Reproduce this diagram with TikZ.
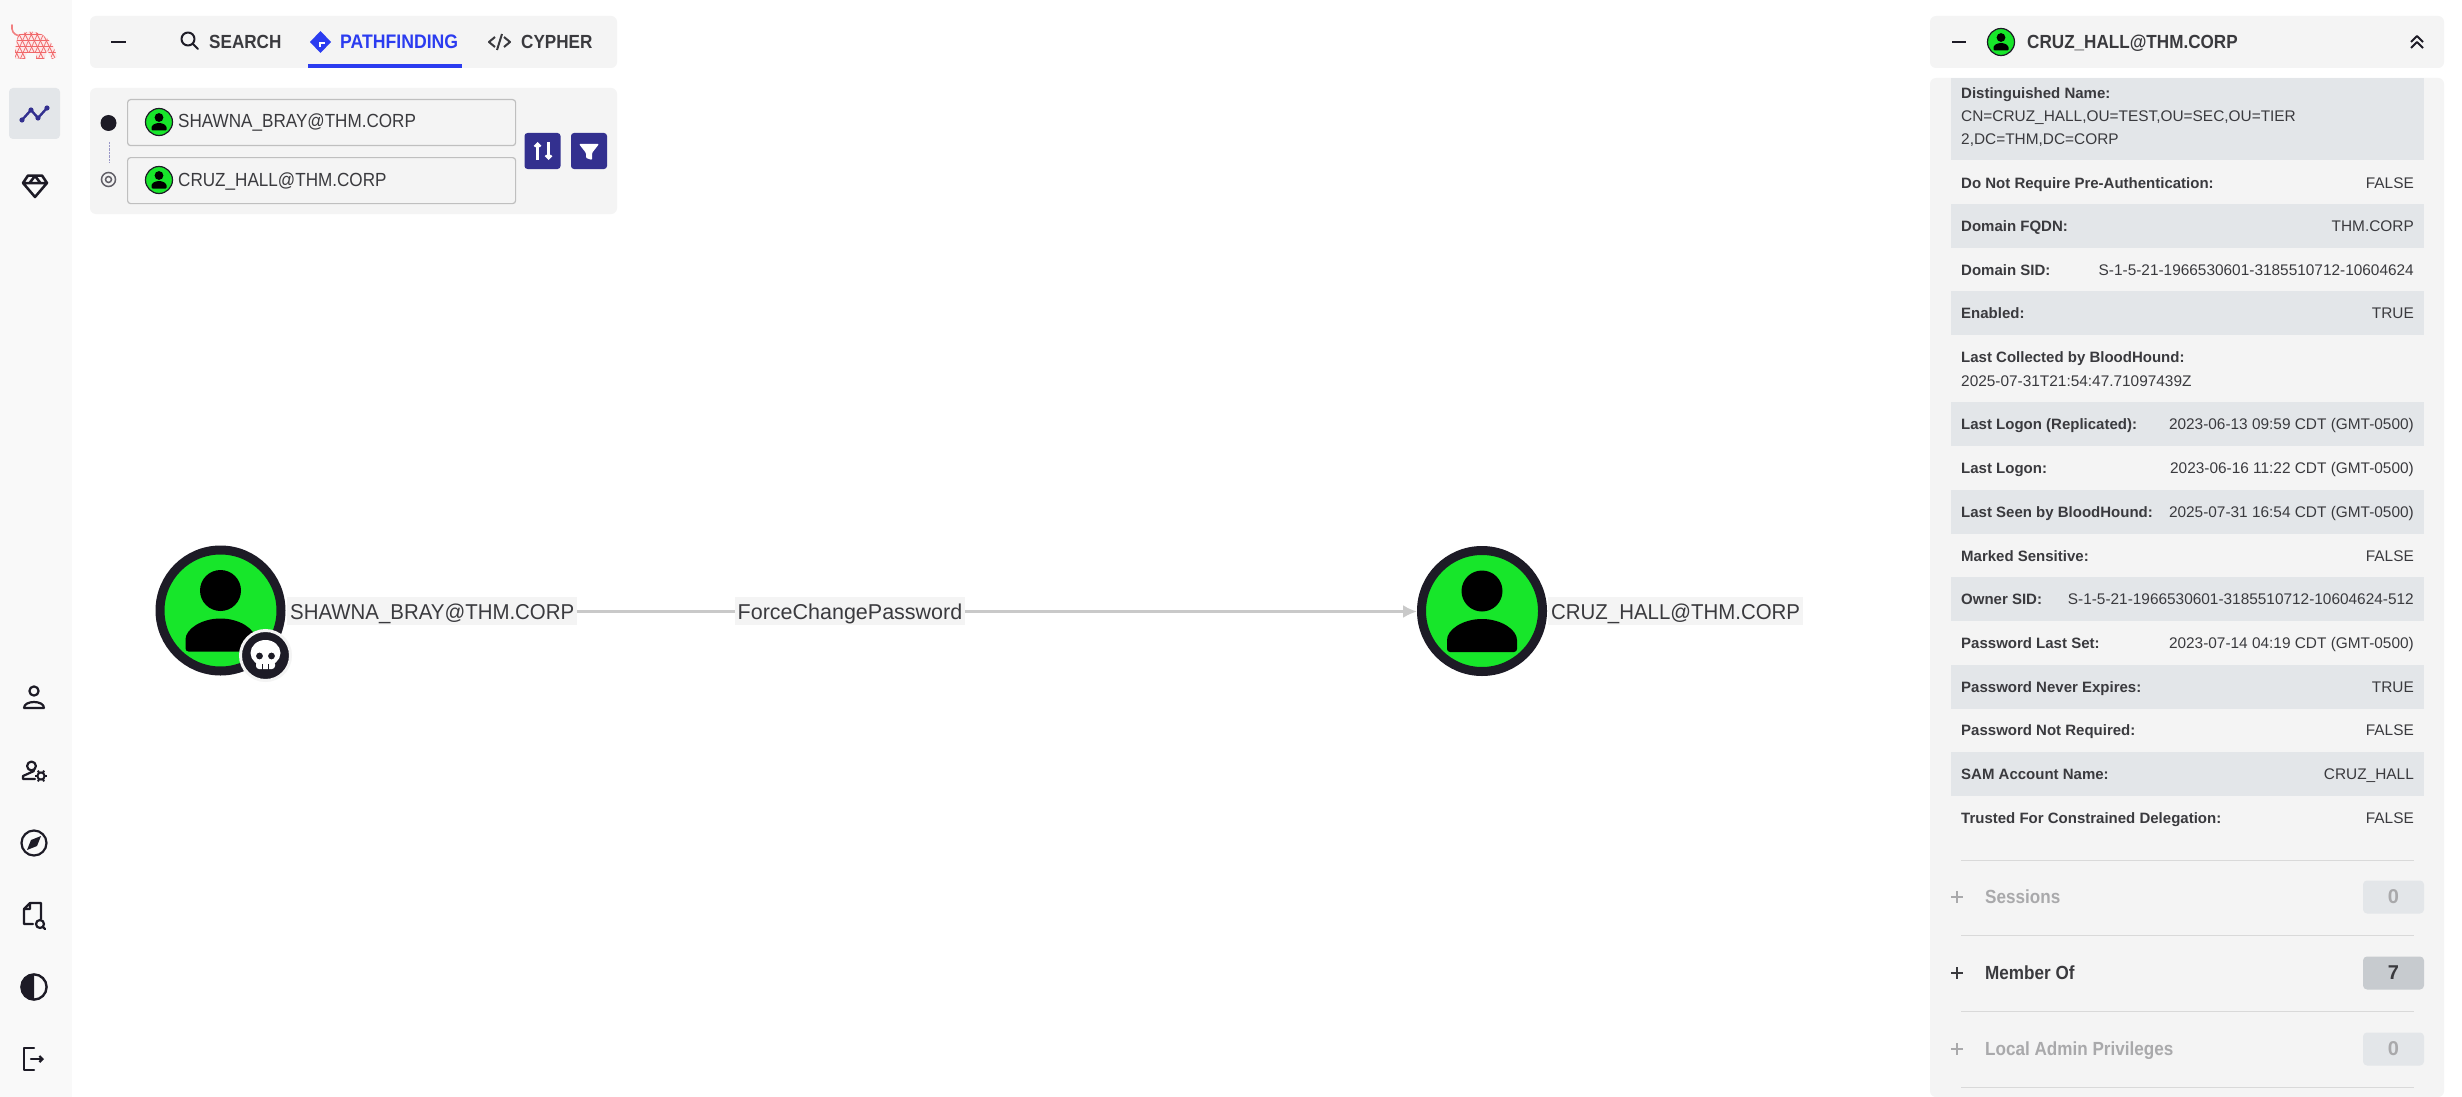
\documentclass[tikz,border=0pt]{standalone}
\usepackage{fontspec}
\setmainfont{Liberation Sans}
\newfontfamily\uifont[FakeStretch=0.9]{Liberation Sans}
\newfontfamily\labelfont[FakeStretch=0.95]{Liberation Sans}
\usetikzlibrary{arrows.meta,positioning,calc}
\definecolor{ink}{HTML}{1D1B26}
\definecolor{rail}{HTML}{F9F9F9}
\definecolor{panel}{HTML}{F4F4F4}
\definecolor{stripe}{HTML}{E3E6E9}
\definecolor{lime}{HTML}{17E62A}
\definecolor{royal}{HTML}{2B3CF0}
\definecolor{indigo}{HTML}{33308F}
\definecolor{muted}{HTML}{3A3A3E}
\definecolor{faded}{HTML}{A9A9AB}
\definecolor{edgegray}{HTML}{C9C9C9}
\definecolor{hound}{HTML}{F0686A}
\definecolor{badgegray}{HTML}{C7CBCF}
\tikzset{>=Latex,
  card/.style={fill=panel,rounded corners=6pt,inner sep=0pt},
  inputbox/.style={draw=black!25,line width=1.2pt,fill=panel,rounded corners=3pt,minimum width=388pt,minimum height=46pt,inner sep=0pt},
  tab/.style={font=\uifont\fontsize{19}{20}\selectfont\bfseries,text=muted,anchor=west,inner sep=0pt,text height=13.6pt,text depth=0pt},
  nodelabel/.style={font=\labelfont\fontsize{21.5}{24}\selectfont,text=muted,fill=panel,inner xsep=3pt,inner ysep=5.5pt,anchor=west,text height=17pt,text depth=0pt},
  fieldtext/.style={font=\uifont\fontsize{19}{20}\selectfont,text=muted,anchor=west,inner sep=0pt,text height=14pt,text depth=0pt},
  rowkey/.style={font=\fontsize{15}{18}\selectfont\bfseries,text=muted,anchor=west,inner sep=0pt,text height=11pt,text depth=0pt},
  rowval/.style={font=\fontsize{15.4}{18}\selectfont,text=muted,anchor=east,inner sep=0pt,text height=11pt,text depth=0pt},
  rowtext/.style={rowval,anchor=west},
  badge/.style={rounded corners=4pt,minimum width=61pt,minimum height=33pt,inner sep=0pt,font=\fontsize{20}{20}\selectfont\bfseries},
  squarebtn/.style={fill=indigo,rounded corners=3pt,minimum width=36pt,minimum height=36pt,inner sep=0pt},
  icon/.style={draw=ink,line width=2.2pt,line cap=round,line join=round},
  pics/avatar/.style={code={
    \fill[lime,draw=ink,line width=9pt] (0,0) circle (60.5pt);
    \fill[black] (0,-20) circle (20.5pt);
    \fill[black,rounded corners=3pt] (-35,41) -- (-35,32) arc[start angle=180,end angle=0,x radius=35pt,y radius=24pt] -- (35,41) -- cycle;
  }},
  pics/miniavatar/.style={code={
    \fill[lime,draw=ink,line width=1.2pt] (0,0) circle (13.5pt);
    \fill[black] (0,-4.5) circle (4.4pt);
    \fill[black,rounded corners=1pt] (-7.5,8.5) -- (-7.5,6.5) arc[start angle=180,end angle=0,x radius=7.5pt,y radius=5.5pt] -- (7.5,8.5) -- cycle;
  }}}
\begin{document}
\begin{tikzpicture}[x=1pt,y=-1pt]
\useasboundingbox[fill=white] (0,0) rectangle (2462,1097);
% left rail
\fill[rail] (0,0) rectangle (72,1097);
\fill[stripe,rounded corners=4pt] (9,88) rectangle (60,139);
% hound logo
\draw[hound!85,line width=1.6pt,line cap=round] (12,25) .. controls (11.5,31) and (13,34) .. (19,36);
\begin{scope}
\clip (18,35) .. controls (24,32) and (30,31) .. (35,32) .. controls (46,34) and (54,44) .. (57,57) -- (52,59) -- (47,50) -- (44,59) -- (36,59) -- (36,53) -- (27,53) -- (25,59) -- (15,58) -- (15,50) -- cycle;
\fill[hound!15] (10,25) rectangle (60,62);
\foreach \a in {0,6,...,66}{
  \draw[hound,line width=.7pt] (\a,24) -- (\a-18,64) (\a-10,24) -- (\a+10,64);
}
\foreach \b in {34,40,...,58}{\draw[hound,line width=.5pt] (10,\b) -- (60,\b);}
\end{scope}
% rail icons
\draw[indigo,line width=2.4pt,line join=round] (22,120) -- (31,110) -- (38,118) -- (47,108);
\foreach \a/\b in {22/120,31/110,38/118,47/108}{\fill[indigo] (\a,\b) circle (2.6pt);}
\draw[icon,line width=2.5pt] (23,183) -- (28,175.5) -- (42,175.5) -- (47,183) -- (35,197) -- cycle (23,183) -- (47,183) (29.5,183) -- (35,176) -- (40.5,183);
\draw[icon] (34,691) circle (4.6pt) (24,708) -- (44,708) (24,708) .. controls (24,700) and (44,700) .. (44,708);
\draw[icon] (31.5,766) circle (4.4pt) (35,779) -- (23,779) -- (23,776) -- (34,771);
\draw[ink,line width=2pt] (41,776) circle (3.6pt);
\foreach \t in {0,60,...,300}{\draw[ink,line width=2pt] ($(41,776)+(\t:3.6)$) -- ($(41,776)+(\t:6.2)$);}
\draw[icon] (34,843) circle (12.5pt);
\fill[ink] (41,836) -- (37,846) -- (27,850) -- (31,840) -- cycle;
\draw[icon] (41,919) -- (41,903) -- (30,903) -- (24,909) -- (24,924) -- (33,924) (30,903) -- (30,909) -- (24,909);
\draw[icon] (40,924) circle (4pt) (43,927) -- (45,929);
\draw[ink,line width=2.4pt] (34,987) circle (12.6pt);
\fill[ink] (34,974.4) arc[start angle=90,end angle=270,radius=12.6pt] -- cycle;
\draw[icon] (34,1048) -- (24,1048) -- (24,1070) -- (34,1070);
\draw[icon,-{Straight Barb[length=3pt]}] (31,1059) -- (44,1059);
% tab bar
\fill[card] (90,16) rectangle (617,68);
\fill[card] (90,88) rectangle (617,214);
\draw[ink,line width=2.2pt] (111,42) -- (126,42);
\draw[icon,line width=2pt] (188,39) circle (6.5pt) (193,44) -- (198,49);
\node[tab] (searchtab) at (209,42) {SEARCH};
\fill[royal] (320.5,31) -- (331,42) -- (320.5,53) -- (310,42) -- cycle;
\fill[white] (319,44) rectangle (321,47);
\fill[white] (319,42) rectangle (325,44);
\node[tab,font=\uifont\fontsize{19.6}{20}\selectfont\bfseries,text=royal] (pathtab) at (340,42) {PATHFINDING};
\fill[royal] (308,64) rectangle (462,68);
\draw[muted,line width=2pt,line join=round] (495,37) -- (489,42) -- (495,47) (504,37) -- (510,42) -- (504,47) (502,34) -- (497,50);
\node[tab] (cyphertab) at (521,42) {CYPHER};
% start and end fields
\node[inputbox,anchor=north west] (startbox) at (127,99) {};
\node[inputbox,anchor=north west] (endbox) at (127,157) {};
\fill[ink] (108.5,123) circle (8pt);
\draw[ink!70,line width=1.5pt] (108.5,179.5) circle (7pt) (108.5,179.5) circle (3pt);
\draw[indigo!50,densely dotted] (109,142) -- (109,162);
\pic at (159,122) {miniavatar};
\pic at (159,180) {miniavatar};
\node[fieldtext] (startname) at (178,121) {SHAWNA\_BRAY@THM.CORP};
\node[fieldtext] (endname) at (178,179) {CRUZ\_HALL@THM.CORP};
\node[squarebtn] (swapbtn) at (542.5,151) {};
\node[squarebtn] (filterbtn) at (589,151) {};
\draw[white,line width=2.2pt,-{Straight Barb[length=3pt]}] (537.5,160) -- (537.5,142);
\draw[white,line width=2.2pt,-{Straight Barb[length=3pt]}] (548.5,142) -- (548.5,160);
\fill[white,rounded corners=1pt] (579,144) -- (599,144) -- (592,153) -- (592,160) -- (586,158) -- (586,153) -- cycle;
% graph
\pic at (220.5,610.5) {avatar};
\pic at (1482,611) {avatar};
\coordinate (srcport) at (576,611.5);
\coordinate (dstport) at (1417,611.5);
\draw[edgegray,line width=2.6pt,-{Latex[length=14pt,width=13pt]}] (srcport) -- (dstport);
\node[nodelabel] (srclabel) at (287,611) {SHAWNA\_BRAY@THM.CORP};
\node[nodelabel] (dstlabel) at (1548,611) {CRUZ\_HALL@THM.CORP};
\node[nodelabel,font=\fontsize{21.5}{24}\selectfont,anchor=center] (edgelabel) at (850,611) {ForceChangePassword};
% skull badge
\fill[ink,draw=panel,line width=3pt] (265.5,655.5) circle (25pt);
\fill[white,rounded corners=3pt] (256,661) -- (256,669) -- (275,669) -- (275,661) -- cycle;
\fill[white] (265.5,653) ellipse (15pt and 13pt);
\fill[ink] (259.5,656) circle (3.4pt) (271.5,656) circle (3.4pt);
\draw[ink,line width=.8pt] (262.5,664) -- (262.5,670) (268.5,664) -- (268.5,670);
% right panel
\fill[card] (1930,16) rectangle (2444,68);
\fill[card] (1930,78) rectangle (2444,1097);
\draw[ink,line width=2.2pt] (1952,42) -- (1966,42);
\pic at (2001,42) {miniavatar};
\node[tab] (paneltitle) at (2027,42) {CRUZ\_HALL@THM.CORP};
\draw[ink,line width=2pt,line join=round] (2411,42) -- (2417,36) -- (2423,42) (2411,48) -- (2417,42) -- (2423,48);
% striped rows
\fill[stripe] (1951,78) rectangle (2424,160);
\foreach \y in {226,313,424,511.5,599,686.5,774}{\fill[stripe] (1951,\y-22) rectangle (2424,\y+22);}
\node[rowkey] (dnkey) at (1961,93) {Distinguished Name:};
\node[rowtext] (dnone) at (1961,116) {CN=CRUZ\_HALL,OU=TEST,OU=SEC,OU=TIER};
\node[rowtext] (dntwo) at (1961,139) {2,DC=THM,DC=CORP};
\node[rowkey] (collectkey) at (1961,357) {Last Collected by BloodHound:};
\node[rowtext] (collectval) at (1961,381) {2025-07-31T21:54:47.71097439Z};
\foreach \y/\k/\v in {182.5/Do Not Require Pre-Authentication:/FALSE,226/Domain FQDN:/THM.CORP,269.5/Domain SID:/S-1-5-21-1966530601-3185510712-10604624,313/Enabled:/TRUE,424/Last Logon (Replicated):/2023-06-13 09:59 CDT (GMT-0500),468/Last Logon:/2023-06-16 11:22 CDT (GMT-0500),511.5/Last Seen by BloodHound:/2025-07-31 16:54 CDT (GMT-0500),555.5/Marked Sensitive:/FALSE,599/Owner SID:/S-1-5-21-1966530601-3185510712-10604624-512,643/Password Last Set:/2023-07-14 04:19 CDT (GMT-0500),686.5/Password Never Expires:/TRUE,730/Password Not Required:/FALSE,774/SAM Account Name:/CRUZ\_HALL,818/Trusted For Constrained Delegation:/FALSE}{
  \node[rowkey] at (1961,\y) {\k};
  \node[rowval] at (2414,\y) {\v};
}
% collapsed sections
\foreach \y in {860,935,1011,1087}{\draw[black!15,line width=1pt] (1961,\y) -- (2414,\y);}
\foreach \y/\k/\v/\c/\b in {897/Sessions/0/faded/stripe,973/Member Of/7/muted/badgegray,1049/Local Admin Privileges/0/faded/stripe}{
  \draw[\c,line width=2pt] (1951,\y) -- (1963,\y) (1957,\y-6) -- (1957,\y+6);
  \node[tab,text=\c] at (1985,\y) {\k};
  \node[badge,fill=\b,text=\c] at (2393.5,\y) {\v};
}
\end{tikzpicture}
\end{document}
